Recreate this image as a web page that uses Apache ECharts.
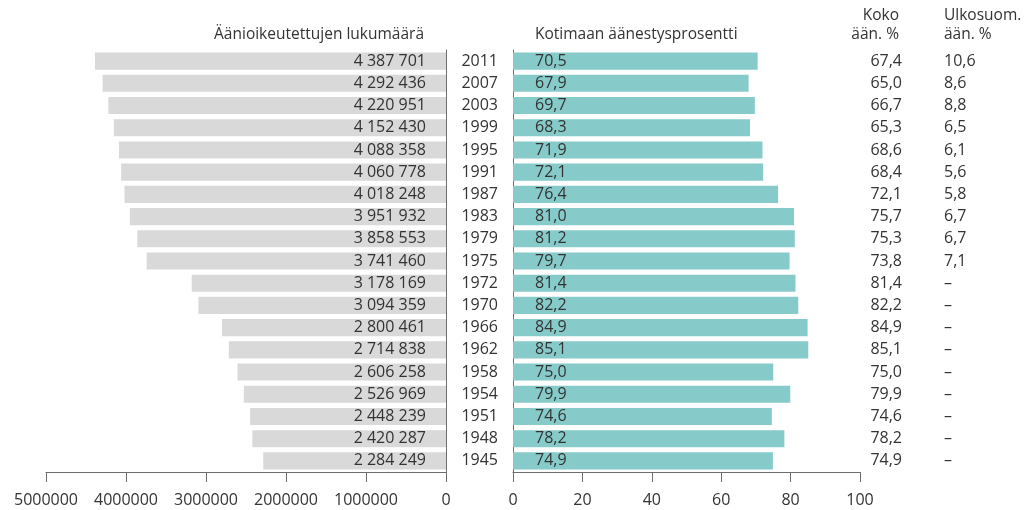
<!DOCTYPE html>
<html>
<head>
<meta charset="utf-8">
<script src="https://cdn.jsdelivr.net/npm/echarts@6/dist/echarts.min.js"></script>
<style>
  html, body { margin: 0; padding: 0; background: #fff; }
  #chart { width: 1024px; height: 510px; }
</style>
</head>
<body>
<div id="chart"></div>
<script>
const years = ["2011", "2007", "2003", "1999", "1995", "1991", "1987", "1983", "1979", "1975",
  "1972", "1970", "1966", "1962", "1958", "1954", "1951", "1948", "1945"]
const eligibleVoters = [4387701, 4292436, 4220951, 4152430, 4088358, 4060778, 4018248, 3951932, 3858553, 3741460,
  3178169, 3094359, 2800461, 2714838, 2606258, 2526969, 2448239, 2420287, 2284249]
const domesticTurnout = [70.5, 67.9, 69.7, 68.3, 71.9, 72.1, 76.4, 81.0, 81.2, 79.7,
  81.4, 82.2, 84.9, 85.1, 75.0, 79.9, 74.6, 78.2, 74.9]
const totalTurnout = [67.4, 65.0, 66.7, 65.3, 68.6, 68.4, 72.1, 75.7, 75.3, 73.8,
  81.4, 82.2, 84.9, 85.1, 75.0, 79.9, 74.6, 78.2, 74.9]
const abroadTurnout = [10.6, 8.6, 8.8, 6.5, 6.1, 5.6, 5.8, 6.7, 6.7, 7.1,
  null, null, null, null, null, null, null, null, null]
const leftTicks = [0, 1000000, 2000000, 3000000, 4000000, 5000000]
const rightTicks = [0, 20, 40, 60, 80, 100]

const font = "'Open Sans', 'Noto Sans', sans-serif"
const textColor = "#333"
const axisColor = "#6e6e6e"

const fmtThousands = (v) => String(v).replace(/\B(?=(\d{3})+(?!\d))/g, " ")
const fmtDecimal = (v) => (v == null ? "–" : v.toFixed(1).replace(".", ","))

const gridTop = 50
const gridHeight = 422

const headStyle = (text, align) => ({
  text,
  align,
  verticalAlign: "top",
  font: "15.5px " + font,
  fill: textColor,
  lineHeight: 19
})

const chart = echarts.init(document.getElementById("chart"))

chart.setOption({
  animation: false,
  textStyle: { fontFamily: font, color: textColor },
  graphic: [
    { type: "text", x: 424, y: 25, style: headStyle("Äänioikeutettujen lukumäärä", "right") },
    { type: "text", x: 535, y: 25, style: headStyle("Kotimaan äänestysprosentti", "left") },
    { type: "text", x: 899, y: 6, style: headStyle("Koko\nään. %", "right") },
    { type: "text", x: 944, y: 6, style: headStyle("Ulkosuom.\nään. %", "left") }
  ],
  grid: [
    { left: 46, width: 400, top: gridTop, height: gridHeight },
    { left: 513, width: 347, top: gridTop, height: gridHeight },
    { left: 902, width: 42, top: gridTop, height: gridHeight }
  ],
  xAxis: [
    {
      gridIndex: 0,
      type: "value",
      inverse: true,
      min: leftTicks[0],
      max: leftTicks[leftTicks.length - 1],
      interval: leftTicks[1] - leftTicks[0],
      splitLine: { show: false },
      axisLine: { show: true, lineStyle: { color: axisColor, width: 1 } },
      axisTick: { show: true, length: 10, lineStyle: { color: axisColor } },
      axisLabel: { fontSize: 16, color: textColor, margin: 20, formatter: (v) => String(v) }
    },
    {
      gridIndex: 1,
      type: "value",
      min: rightTicks[0],
      max: rightTicks[rightTicks.length - 1],
      interval: rightTicks[1] - rightTicks[0],
      splitLine: { show: false },
      axisLine: { show: true, lineStyle: { color: axisColor, width: 1 } },
      axisTick: { show: true, length: 10, lineStyle: { color: axisColor } },
      axisLabel: { fontSize: 16, color: textColor, margin: 20 }
    },
    { gridIndex: 2, type: "value", show: false, min: 0, max: 1 }
  ],
  yAxis: [
    {
      gridIndex: 0,
      type: "category",
      data: years,
      inverse: true,
      position: "right",
      axisLine: { show: true, onZero: false, lineStyle: { color: axisColor, width: 1 } },
      axisTick: { show: false },
      axisLabel: { show: false }
    },
    {
      gridIndex: 1,
      type: "category",
      data: years,
      inverse: true,
      position: "left",
      axisLine: { show: true, onZero: false, lineStyle: { color: axisColor, width: 1 } },
      axisTick: { show: false },
      axisLabel: { fontSize: 16, color: textColor, margin: 15 }
    },
    {
      gridIndex: 2,
      type: "category",
      data: totalTurnout.map(fmtDecimal),
      inverse: true,
      position: "left",
      axisLine: { show: false },
      axisTick: { show: false },
      axisLabel: { fontSize: 16, color: textColor, margin: 0 }
    },
    {
      gridIndex: 2,
      type: "category",
      data: abroadTurnout.map(fmtDecimal),
      inverse: true,
      position: "right",
      axisLine: { show: false },
      axisTick: { show: false },
      axisLabel: { fontSize: 16, color: textColor, margin: 0 }
    }
  ],
  series: [
    {
      name: "Äänioikeutettujen lukumäärä",
      type: "bar",
      xAxisIndex: 0,
      yAxisIndex: 0,
      data: eligibleVoters,
      barCategoryGap: "23%",
      itemStyle: { color: "#d9d9d9" },
      label: {
        show: true,
        position: "insideRight",
        distance: 20,
        fontSize: 16,
        color: textColor,
        formatter: (p) => fmtThousands(p.value)
      }
    },
    {
      name: "Kotimaan äänestysprosentti",
      type: "bar",
      xAxisIndex: 1,
      yAxisIndex: 1,
      data: domesticTurnout,
      barCategoryGap: "23%",
      itemStyle: { color: "#86cbc9" },
      label: {
        show: true,
        position: "insideLeft",
        distance: 22,
        fontSize: 16,
        color: textColor,
        formatter: (p) => fmtDecimal(p.value)
      }
    }
  ]
})
</script>
</body>
</html>
